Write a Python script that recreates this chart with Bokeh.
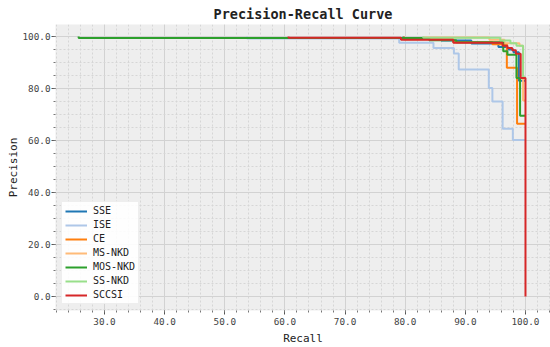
from bokeh.plotting import figure
from bokeh.models import SingleIntervalTicker, Legend, LegendItem, NumeralTickFormatter, Range1d
from bokeh.embed import file_html
from bokeh.resources import INLINE

# ---- data (recall %, precision %) as step breakpoints ----
labels = ["SSE", "ISE", "CE", "MS-NKD", "MOS-NKD", "SS-NKD", "SCCSI"]
colors = ["#1f77b4", "#aec7e8", "#ff7f0e", "#ffbb78", "#2ca02c", "#98df8a", "#d62728"]

sse_recall = [79.7, 79.7, 86.0, 91.0, 95.5, 97.0, 98.0, 98.9, 100.0]
sse_prec = [100.0, 99.3, 98.5, 97.3, 96.0, 95.0, 94.0, 83.0, 83.0]

ise_recall = [53.7, 53.7, 79.0, 84.7, 88.1, 88.9, 93.9, 94.5, 96.2, 97.9, 100.0]
ise_prec = [100.0, 99.2, 97.6, 95.6, 93.5, 87.3, 80.2, 75.0, 64.5, 60.2, 60.2]

ce_recall = [79.8, 79.8, 88.0, 94.5, 96.9, 98.6, 100.0]
ce_prec = [100.0, 99.0, 97.8, 97.0, 88.0, 66.4, 66.4]

msnkd_recall = [83.2, 83.2, 94.0, 96.5, 99.0, 99.6, 100.0]
msnkd_prec = [100.0, 99.6, 98.8, 97.4, 96.5, 75.4, 75.4]

mosnkd_recall = [25.7, 25.7, 84.0, 88.5, 96.3, 97.0, 98.5, 99.1, 100.0]
mosnkd_prec = [100.0, 99.4, 98.6, 97.8, 94.3, 93.0, 84.0, 69.5, 69.5]

ssnkd_recall = [83.0, 83.0, 95.8, 97.5, 98.5, 99.6, 100.0]
ssnkd_prec = [100.0, 99.5, 98.5, 97.4, 96.5, 84.3, 84.3]

sccsi_recall = [60.6, 60.6, 79.3, 88.0, 96.2, 97.0, 97.8, 98.4, 99.2, 100.0]
sccsi_prec = [100.0, 99.5, 98.8, 97.6, 96.5, 95.6, 94.7, 93.4, 84.0, 0.0]

x_ticks_interval = 10
y_ticks_interval = 20

series = [
    (sse_recall, sse_prec),
    (ise_recall, ise_prec),
    (ce_recall, ce_prec),
    (msnkd_recall, msnkd_prec),
    (mosnkd_recall, mosnkd_prec),
    (ssnkd_recall, ssnkd_prec),
    (sccsi_recall, sccsi_prec),
]

FONT = "DejaVu Sans Mono"

p = figure(width=550, height=347, output_backend="svg", toolbar_location=None,
           x_range=Range1d(21.85, 104.16), y_range=Range1d(-5.4, 104.63),
           min_border_left=55, min_border_right=0, min_border_top=0, min_border_bottom=37,
           title="Precision-Recall Curve")

p.title.text_font = FONT
p.title.text_font_style = "bold"
p.title.text_font_size = "13.5px"
p.title.align = "center"
p.title.text_color = "#222222"
p.title.standoff = 6
p.title.offset = 0

p.background_fill_color = "#eeeeee"
p.border_fill_color = "white"
p.outline_line_color = None

p.xaxis.ticker = SingleIntervalTicker(interval=x_ticks_interval, num_minor_ticks=5)
p.yaxis.ticker = SingleIntervalTicker(interval=y_ticks_interval, num_minor_ticks=4)
p.xaxis.formatter = NumeralTickFormatter(format="0.0")
p.yaxis.formatter = NumeralTickFormatter(format="0.0")

for ax in (p.xaxis, p.yaxis):
    ax.axis_line_color = None
    ax.major_tick_line_color = "#555555"
    ax.minor_tick_line_color = "#777777"
    ax.major_tick_out = 4
    ax.major_tick_in = 0
    ax.minor_tick_out = 2
    ax.minor_tick_in = 0
    ax.major_label_text_font = FONT
    ax.major_label_text_font_size = "9.3px"
    ax.major_label_text_color = "#444444"
    ax.axis_label_text_font = FONT
    ax.axis_label_text_font_size = "11px"
    ax.axis_label_text_font_style = "normal"
    ax.axis_label_text_color = "#222222"

p.xaxis.major_label_standoff = 3
p.xaxis.axis_label_standoff = 4
p.yaxis.major_label_standoff = 1
p.yaxis.axis_label_standoff = 0

p.xaxis.axis_label = "Recall"
p.yaxis.axis_label = "Precision"

p.grid.grid_line_color = "#d2d2d2"
p.grid.grid_line_width = 1
p.grid.minor_grid_line_color = "#d6d6d6"
p.grid.minor_grid_line_dash = "2 2"
p.grid.minor_grid_line_width = 1

items = []
for (rx, py), lab, col in zip(series, labels, colors):
    r = p.step(rx, py, mode="after", line_color=col, line_width=2)
    items.append(LegendItem(label=lab, renderers=[r]))

legend = Legend(items=items, location="bottom_left")
legend.label_text_font = FONT
legend.label_text_font_size = "10px"
legend.label_text_color = "#222222"
legend.glyph_width = 22
legend.glyph_height = 10
legend.label_height = 10
legend.label_standoff = 6
legend.spacing = 3
legend.padding = 3
legend.margin = 6
legend.border_line_color = "#dddddd"
legend.background_fill_color = "white"
legend.background_fill_alpha = 0.9
p.add_layout(legend)

open("out.html", "w").write(file_html(p, INLINE))
